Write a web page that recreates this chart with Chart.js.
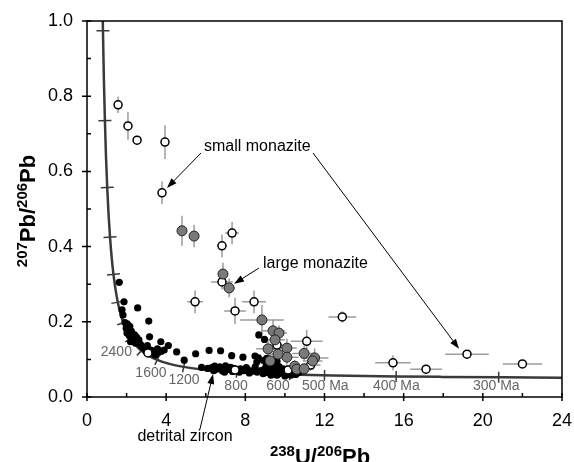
<!DOCTYPE html>
<html>
<head>
<meta charset="utf-8">
<script src="https://cdn.jsdelivr.net/npm/chart.js@4.4.1/dist/chart.umd.min.js"></script>
<style>
html, body { margin: 0; padding: 0; background: #fff; }
#divGrafica { width: 574px; height: 462px; position: relative; }
</style>
</head>
<body>
<div id="divGrafica"><canvas id="ctxConcordia"></canvas></div>
<script>
//Circones detriticos (puntos negros, sin error)
var zirconX = [1.63, 1.87, 2.56, 1.77, 1.82, 1.92, 2.05, 2.16, 1.98, 2.10, 2.24, 2.02, 2.30, 2.14, 2.40, 2.50, 2.24, 2.36, 2.62, 2.45, 2.20,
    3.12, 3.16, 3.73, 4.11, 2.70, 2.78, 2.86, 2.94, 3.05, 3.00, 3.22, 3.30, 3.44, 3.56, 3.62, 3.76, 3.90, 3.45, 4.53, 4.91, 5.49,
    6.17, 6.75, 7.31, 7.88, 8.49, 5.79, 8.68, 8.97, 8.66, 9.08, 8.58, 8.92,
    6.10, 6.30, 6.45, 6.55, 6.70, 6.85, 7.00, 7.10, 7.25, 7.40, 6.40, 6.85, 7.60, 7.75, 7.95, 8.10, 8.30, 8.45, 8.60, 8.80, 8.95,
    9.10, 9.25, 9.40, 9.55, 9.70, 9.80, 9.95, 10.10, 10.25, 10.40, 10.55, 9.20, 9.50, 9.05, 9.35, 9.90, 10.20, 8.50, 8.05, 7.70,
    8.90, 9.60, 10.00, 10.30, 10.70, 9.70, 9.45, 9.15, 9.60, 9.30, 8.20, 7.35, 6.95];
var zirconY = [0.305, 0.253, 0.237, 0.232, 0.218, 0.198, 0.193, 0.188, 0.183, 0.178, 0.175, 0.170, 0.168, 0.163, 0.165, 0.159, 0.155, 0.149, 0.152, 0.143, 0.147,
    0.202, 0.160, 0.147, 0.137, 0.140, 0.134, 0.131, 0.128, 0.137, 0.121, 0.125, 0.117, 0.123, 0.128, 0.119, 0.122, 0.125, 0.112, 0.120, 0.098, 0.115,
    0.124, 0.123, 0.110, 0.106, 0.109, 0.079, 0.165, 0.153, 0.104, 0.103, 0.093, 0.097,
    0.076, 0.078, 0.082, 0.074, 0.080, 0.076, 0.083, 0.073, 0.079, 0.076, 0.070, 0.069, 0.072, 0.075, 0.070, 0.074, 0.068, 0.072, 0.066, 0.070, 0.073,
    0.065, 0.069, 0.063, 0.067, 0.062, 0.070, 0.064, 0.060, 0.066, 0.062, 0.060, 0.078, 0.076, 0.082, 0.072, 0.075, 0.072, 0.080, 0.078, 0.066,
    0.062, 0.058, 0.056, 0.058, 0.065, 0.081, 0.088, 0.090, 0.095, 0.058, 0.064, 0.068, 0.066];

//Monacita pequeña (circulos blancos) con errores
var monaPeqX = [1.57, 2.07, 2.53, 3.94, 3.79, 7.33, 6.82, 6.82, 5.46, 7.48, 8.44, 12.9, 11.1, 9.60, 11.3, 10.16, 7.48, 3.08, 15.46, 17.13, 19.2, 22.0];
var monaPeqY = [0.777, 0.721, 0.683, 0.678, 0.543, 0.436, 0.402, 0.306, 0.253, 0.229, 0.253, 0.213, 0.148, 0.138, 0.085, 0.072, 0.072, 0.117, 0.091, 0.074, 0.114, 0.088];
var monaPeqErrX = [0, 0, 0, 0, 0.05, 0.35, 0.25, 0.55, 0.4, 0.55, 0.6, 0.7, 0.8, 0.4, 0.5, 0.4, 0.2, 0.2, 0.9, 0.8, 1.1, 1.0];
var monaPeqErrY = [0.022, 0.037, 0.012, 0.045, 0.03, 0.03, 0.03, 0.02, 0.03, 0.035, 0.03, 0.015, 0.03, 0.02, 0.015, 0.01, 0.01, 0.01, 0.02, 0.01, 0.01, 0.01];

//Monacita grande (circulos grises) con errores
var monaGdeX = [4.80, 5.41, 6.87, 7.18, 8.84, 9.40, 9.70, 9.50, 9.15, 10.1, 10.1, 9.65, 9.25, 10.5, 10.6, 10.97, 11.5, 11.4, 10.97];
var monaGdeY = [0.442, 0.428, 0.327, 0.290, 0.205, 0.176, 0.170, 0.152, 0.128, 0.130, 0.106, 0.114, 0.096, 0.082, 0.074, 0.116, 0.104, 0.096, 0.075];
var monaGdeErrX = [0.1, 0.1, 0.2, 0.3, 1.1, 0.6, 0.4, 0.5, 0.6, 0.5, 0.6, 0.5, 0.4, 0.5, 0.4, 0.6, 0.7, 0.5, 0.5];
var monaGdeErrY = [0.04, 0.03, 0.03, 0.025, 0.04, 0.03, 0.02, 0.03, 0.02, 0.025, 0.02, 0.02, 0.02, 0.015, 0.015, 0.02, 0.025, 0.02, 0.015];

//Curva concordia
var concordiaX = [0.763, 0.806, 0.853, 0.905, 0.960, 1.022, 1.089, 1.163, 1.245, 1.337, 1.440, 1.556, 1.687, 1.838, 2.013, 2.217,
    2.459, 2.749, 3.104, 3.550, 4.122, 4.888, 5.959, 7.568, 8.718, 10.25, 12.40, 15.62, 17.92, 20.99, 25.29];
var concordiaY = [1.123, 0.974, 0.845, 0.735, 0.639, 0.557, 0.486, 0.425, 0.372, 0.326, 0.287, 0.252, 0.223, 0.197, 0.174, 0.155,
    0.138, 0.123, 0.110, 0.0987, 0.0888, 0.0801, 0.0725, 0.0658, 0.0628, 0.0599, 0.0572, 0.0547, 0.0535, 0.0523, 0.0512];

//Marcas de edad sobre la concordia
var edadX = [0.806, 0.905, 1.022, 1.163, 1.337, 1.556, 1.838, 2.217, 2.749, 3.55, 4.888, 7.568, 10.25, 12.0, 15.62, 20.8];
var edadY = [0.974, 0.735, 0.557, 0.425, 0.326, 0.252, 0.197, 0.155, 0.123, 0.0987, 0.0801, 0.0658, 0.0599, 0.0575, 0.0547, 0.0524];

//Etiquetas de edad
var edadTextos = ['2400', '1600', '1200', '800', '600', '500 Ma', '400 Ma', '300 Ma'];
var edadTextoX = [2.27, 3.23, 4.90, 7.53, 9.65, 10.86, 14.45, 19.50];
var edadTextoY = [0.120, 0.064, 0.045, 0.029, 0.029, 0.029, 0.029, 0.029];
var edadTextoAlin = ['right', 'center', 'center', 'center', 'center', 'left', 'left', 'left'];

var fuente = 'Arial, "Liberation Sans", sans-serif';

function puntos(xs, ys) {
    return xs.map(function(x, i) { return {x: x, y: ys[i]}; });
}

//Notas con flecha (unidades de datos)
var notas = [
    {texto: 'small monazite', x: 5.91, y: 0.665, alin: 'left', tam: 16},
    {texto: 'large monazite', x: 8.89, y: 0.356, alin: 'left', tam: 16},
    {texto: 'detrital zircon', x: 4.95, y: -0.106, alin: 'center', tam: 16}
];
var flechas = [
    [5.76, 0.649, 4.04, 0.556],
    [11.42, 0.649, 18.80, 0.128],
    [8.69, 0.343, 7.43, 0.301],
    [5.71, -0.085, 6.37, 0.061]
];

function textoSup(ctx, partes, x, y, tam) {
    //partes: [texto, esSuperindice]
    var total = 0;
    partes.forEach(function(p) {
        ctx.font = 'bold ' + (p[1] ? Math.round(tam * 0.68) : tam) + 'px ' + fuente;
        total += ctx.measureText(p[0]).width;
    });
    var cx = x - total / 2;
    partes.forEach(function(p) {
        ctx.font = 'bold ' + (p[1] ? Math.round(tam * 0.68) : tam) + 'px ' + fuente;
        ctx.fillText(p[0], cx, p[1] ? y - tam * 0.38 : y);
        cx += ctx.measureText(p[0]).width;
    });
}

var pluginErrores = {
    id: 'errores',
    beforeDatasetsDraw: function(chart) {
        var ctx = chart.ctx, sx = chart.scales.x, sy = chart.scales.y;
        chart.data.datasets.forEach(function(ds) {
            if (!ds.errX) return;
            ctx.save();
            ctx.strokeStyle = '#9c9c9c';
            ctx.lineWidth = 1.5;
            ds.data.forEach(function(p, i) {
                var px = sx.getPixelForValue(p.x), py = sy.getPixelForValue(p.y);
                ctx.beginPath();
                if (ds.errX[i] > 0) {
                    ctx.moveTo(sx.getPixelForValue(p.x - ds.errX[i]), py);
                    ctx.lineTo(sx.getPixelForValue(p.x + ds.errX[i]), py);
                }
                if (ds.errY[i] > 0) {
                    ctx.moveTo(px, sy.getPixelForValue(p.y - ds.errY[i]));
                    ctx.lineTo(px, sy.getPixelForValue(p.y + ds.errY[i]));
                }
                ctx.stroke();
            });
            ctx.restore();
        });
    }
};

var pluginMarco = {
    id: 'marco',
    afterDatasetsDraw: function(chart) {
        var ctx = chart.ctx, a = chart.chartArea, sx = chart.scales.x, sy = chart.scales.y;
        ctx.save();
        ctx.strokeStyle = '#000';
        ctx.lineWidth = 1.5;
        ctx.strokeRect(a.left, a.top, a.right - a.left, a.bottom - a.top);
        ctx.beginPath();
        for (var v = 0; v <= 24; v += 2) {
            var px = sx.getPixelForValue(v);
            ctx.moveTo(px, a.bottom - 4);
            ctx.lineTo(px, v % 4 === 0 ? a.bottom + 4 : a.bottom);
        }
        for (var k = 0; k <= 10; k++) {
            var py = sy.getPixelForValue(k / 10);
            ctx.moveTo(k % 2 === 0 ? a.left - 5 : a.left, py);
            ctx.lineTo(a.left + 4, py);
        }
        ctx.stroke();

        //Etiquetas de edad
        ctx.fillStyle = '#666';
        ctx.font = '14px ' + fuente;
        ctx.textBaseline = 'middle';
        edadTextos.forEach(function(t, i) {
            ctx.textAlign = edadTextoAlin[i];
            ctx.fillText(t, sx.getPixelForValue(edadTextoX[i]), sy.getPixelForValue(edadTextoY[i]));
        });

        //Notas y flechas
        ctx.fillStyle = '#000';
        notas.forEach(function(n) {
            ctx.font = n.tam + 'px ' + fuente;
            ctx.textAlign = n.alin;
            ctx.fillText(n.texto, sx.getPixelForValue(n.x), sy.getPixelForValue(n.y));
        });
        ctx.lineWidth = 1;
        flechas.forEach(function(f) {
            var x1 = sx.getPixelForValue(f[0]), y1 = sy.getPixelForValue(f[1]);
            var x2 = sx.getPixelForValue(f[2]), y2 = sy.getPixelForValue(f[3]);
            var ang = Math.atan2(y2 - y1, x2 - x1);
            ctx.beginPath();
            ctx.moveTo(x1, y1);
            ctx.lineTo(x2 - 6 * Math.cos(ang), y2 - 6 * Math.sin(ang));
            ctx.stroke();
            ctx.beginPath();
            ctx.moveTo(x2, y2);
            ctx.lineTo(x2 - 10 * Math.cos(ang) + 3.5 * Math.sin(ang), y2 - 10 * Math.sin(ang) - 3.5 * Math.cos(ang));
            ctx.lineTo(x2 - 10 * Math.cos(ang) - 3.5 * Math.sin(ang), y2 - 10 * Math.sin(ang) + 3.5 * Math.cos(ang));
            ctx.closePath();
            ctx.fill();
        });

        //Titulos de ejes con superindices
        ctx.textAlign = 'left';
        ctx.textBaseline = 'alphabetic';
        textoSup(ctx, [['238', true], ['U/', false], ['206', true], ['Pb', false]], 320, 464, 22);
        ctx.translate(35, 211);
        ctx.rotate(-Math.PI / 2);
        textoSup(ctx, [['207', true], ['Pb/', false], ['206', true], ['Pb', false]], 0, 0, 22);
        ctx.restore();
    }
};

function sinRelleno(s) {
    s.paddingLeft = 0; s.paddingRight = 0; s.paddingTop = 0; s.paddingBottom = 0;
}

Chart.defaults.font.family = fuente;
Chart.defaults.color = '#000';

var grafica = new Chart(document.getElementById('ctxConcordia'), {
    type: 'scatter',
    data: {
        datasets: [{
            label: 'large monazite',
            data: puntos(monaGdeX, monaGdeY),
            errX: monaGdeErrX, errY: monaGdeErrY,
            pointRadius: 5, pointBackgroundColor: '#7a7a7a', pointBorderColor: '#222', pointBorderWidth: 1
        }, {
            label: 'small monazite',
            data: puntos(monaPeqX, monaPeqY),
            errX: monaPeqErrX, errY: monaPeqErrY,
            pointRadius: 4, pointBackgroundColor: '#fff', pointBorderColor: '#000', pointBorderWidth: 1.5
        }, {
            label: 'detrital zircon',
            data: puntos(zirconX, zirconY),
            pointRadius: 3.6, pointBackgroundColor: '#000', pointBorderWidth: 0
        }, {
            label: 'marcas',
            data: puntos(edadX, edadY),
            pointStyle: 'line',
            pointBorderColor: '#3a3a3a', pointBorderWidth: 1.5,
            pointRadius: function(c) { return c.raw && c.raw.y > 0.1 ? 6.5 : 5.5; },
            rotation: function(c) {
                var sx = c.chart.scales.x, sy = c.chart.scales.y, p = c.raw;
                if (!p) return 0;
                var i = 0;
                while (i < concordiaX.length - 2 && concordiaX[i + 1] < p.x) i++;
                var dx = sx.getPixelForValue(concordiaX[i + 1]) - sx.getPixelForValue(concordiaX[i]);
                var dy = sy.getPixelForValue(concordiaY[i + 1]) - sy.getPixelForValue(concordiaY[i]);
                return Math.atan2(dy, dx) * 180 / Math.PI + 90;
            }
        }, {
            label: 'concordia',
            data: puntos(concordiaX, concordiaY),
            showLine: true, pointRadius: 0,
            borderColor: '#3a3a3a', borderWidth: 2.5,
            cubicInterpolationMode: 'monotone'
        }]
    },
    options: {
        responsive: true,
        maintainAspectRatio: false,
        animation: false,
        events: [],
        layout: {padding: {left: 0, top: 21, right: 12, bottom: 0}},
        plugins: {legend: {display: false}, tooltip: {enabled: false}},
        scales: {
            x: {
                min: 0, max: 24,
                grid: {display: false, drawTicks: false},
                border: {display: false},
                ticks: {stepSize: 4, font: {size: 18}, padding: 13, maxRotation: 0},
                afterFit: function(s) { s.height = 65; sinRelleno(s); }
            },
            y: {
                min: 0, max: 1,
                grid: {display: false, drawTicks: false},
                border: {display: false},
                ticks: {stepSize: 0.2, font: {size: 18}, padding: 14, callback: function(v) { return v.toFixed(1); }},
                afterFit: function(s) { s.width = 87; sinRelleno(s); }
            }
        }
    },
    plugins: [pluginErrores, pluginMarco]
});
</script>
</body>
</html>
